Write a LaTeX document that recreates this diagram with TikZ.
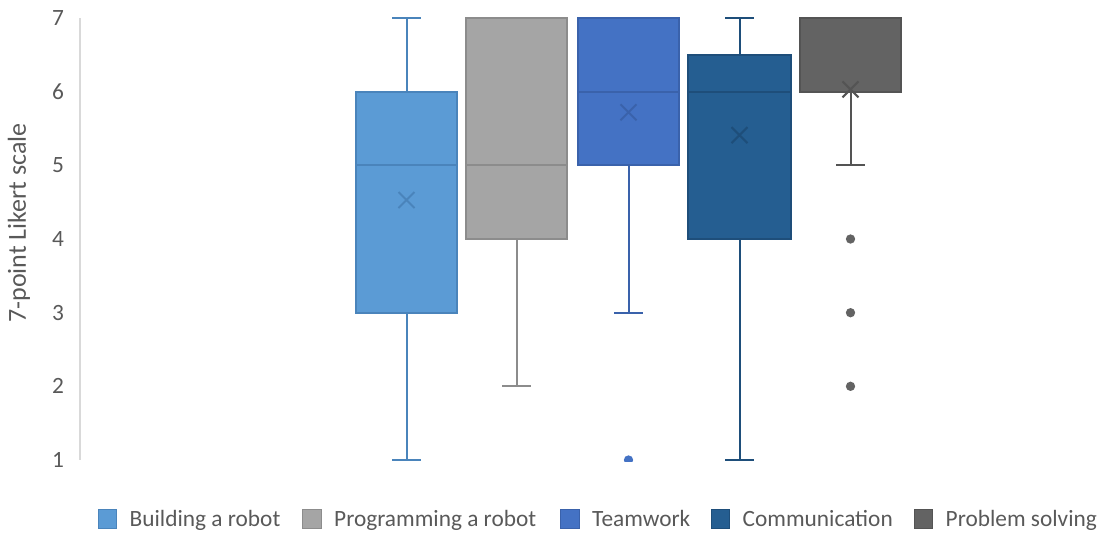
\documentclass[tikz,border=0pt]{standalone}
\usepackage{fontspec}
\setmainfont{Carlito}
\definecolor{buildfill}{HTML}{5B9BD5}
\definecolor{builddraw}{HTML}{4A84BB}
\definecolor{progfill}{HTML}{A5A5A5}
\definecolor{progdraw}{HTML}{8C8C8C}
\definecolor{teamfill}{HTML}{4472C4}
\definecolor{teamdraw}{HTML}{3A62AB}
\definecolor{commfill}{HTML}{255E91}
\definecolor{commdraw}{HTML}{1E4E7A}
\definecolor{probfill}{HTML}{636363}
\definecolor{probdraw}{HTML}{545454}
\definecolor{labelgray}{HTML}{595959}
\definecolor{axisgray}{HTML}{D9D9D9}
% Box plot: #1 fill, #2 line colour, #3 left, #4 right, #5 Q3, #6 Q1, #7 median, #8 upper whisker, #9 lower whisker (all in pixels)
\newcommand\likertbox[9]{%
  \draw[fill=#1, draw=#2, boxline] (#3,#5) rectangle (#4,#6);
  \draw[draw=#2, boxline] (#3,#7) -- (#4,#7);
  \pgfmathsetmacro\xmid{(#3+#4)/2}
  \draw[draw=#2, boxline] (\xmid,#5) -- (\xmid,#8) (\xmid-14.5,#8) -- (\xmid+14.5,#8);
  \draw[draw=#2, boxline] (\xmid,#6) -- (\xmid,#9) (\xmid-14.5,#9) -- (\xmid+14.5,#9);
}
% Mean marker: #1 colour, #2 x, #3 y
\newcommand\meanmark[3]{%
  \draw[draw=#1, line width=1.5pt] (#2-8,#3-8) -- (#2+8,#3+8) (#2-8,#3+8) -- (#2+8,#3-8);
}
\begin{document}
\begin{tikzpicture}[x=0.75pt, y=-0.75pt,
  boxline/.style={line width=1.5pt},
  ticklabel/.style={text=labelgray, font=\fontsize{17.5}{20}\selectfont},
  legendkey/.style={minimum width=14pt, minimum height=14pt, inner sep=0pt, line width=0.9pt},
  legendtext/.style={text=labelgray, font=\fontsize{17.5}{20}\selectfont, anchor=base west, inner sep=0pt},
  outlier/.style={circle, inner sep=0pt, minimum size=7pt}]
\useasboundingbox (0,0) rectangle (1104,533);

% vertical axis
\draw[axisgray, line width=1pt] (80,18) -- (80,460);
\foreach \v/\py in {7/18, 6/91.7, 5/165.3, 4/239, 3/312.7, 2/386.3, 1/460}
  \node[ticklabel] (tick\v) at (58,\py) {\v};
\node[text=labelgray, font=\fontsize{19.5}{23}\selectfont, rotate=90] (ytitle) at (19,223) {7-point Likert scale};

% Building a robot
\likertbox{buildfill}{builddraw}{356}{457}{91.7}{312.7}{165.3}{18}{460}
\meanmark{builddraw}{406.5}{200}

% Programming a robot
\likertbox{progfill}{progdraw}{466}{567}{18}{239}{165.3}{18}{386.3}

% Teamwork
\likertbox{teamfill}{teamdraw}{578}{679}{18}{165.3}{91.7}{18}{312.7}
\meanmark{teamdraw}{628.5}{112.3}
\begin{scope}
  \clip (560,440) rectangle (700,461);
  \node[outlier, fill=teamfill] (teamout1) at (628.5,460) {};
\end{scope}

% Communication
\likertbox{commfill}{commdraw}{688}{791}{54.8}{239}{91.7}{18}{460}
\meanmark{commdraw}{739.5}{135.1}

% Problem solving
\likertbox{probfill}{probdraw}{800}{901}{18}{91.7}{18}{18}{165.3}
\meanmark{probdraw}{850.5}{89.4}
\node[outlier, fill=probfill] (probout4) at (850.5,239) {};
\node[outlier, fill=probfill] (probout3) at (850.5,312.7) {};
\node[outlier, fill=probfill] (probout2) at (850.5,386.3) {};

% legend
\foreach \name/\fc/\dc/\kx/\label in {
    build/buildfill/builddraw/107.5/Building a robot,
    prog/progfill/progdraw/312/Programming a robot,
    team/teamfill/teamdraw/570/Teamwork,
    comm/commfill/commdraw/720.5/Communication,
    prob/probfill/probdraw/923.5/Problem solving} {
  \node[legendkey, fill=\fc, draw=\dc] (key\name) at (\kx,519) {};
  \node[legendtext] (text\name) at ([xshift=9pt, yshift=-5.5pt]key\name.east) {\label};
}
\end{tikzpicture}
\end{document}
